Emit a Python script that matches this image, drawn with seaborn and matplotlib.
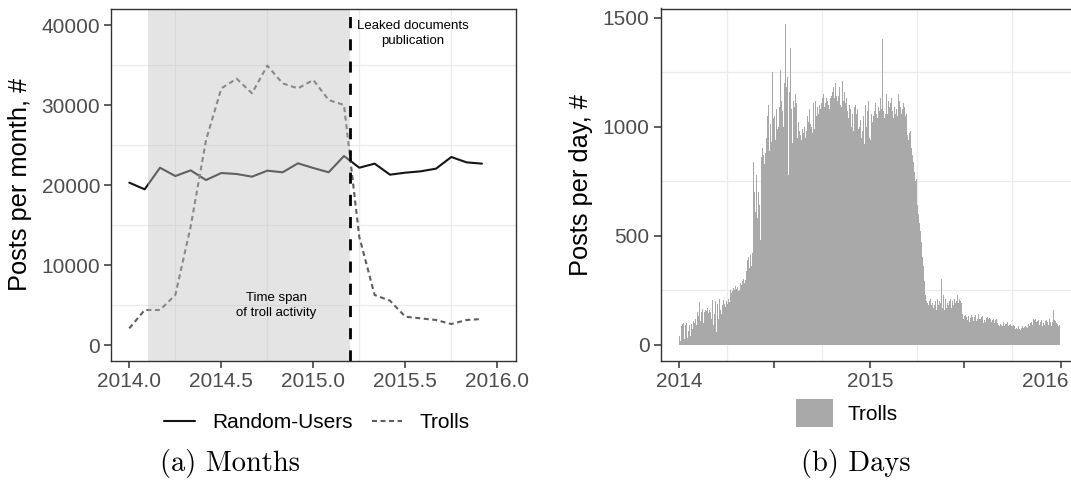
import numpy as np
import pandas as pd
import matplotlib
matplotlib.use("Agg")
import matplotlib.pyplot as plt
from matplotlib.lines import Line2D
from matplotlib.patches import Patch
import seaborn as sns

# ---------------- monthly totals, Jan 2014 .. Dec 2015 ----------------
month_index = np.arange(24)
month_pos = 2014 + month_index / 12
random_users = [20290, 19460, 22160, 21120, 21830, 20620, 21500, 21375,
                21040, 21790, 21590, 22710, 22125, 21590, 23625, 22160,
                22670, 21290, 21540, 21710, 22040, 23500, 22830, 22670]
trolls_monthly = [2080, 4375, 4375, 6250, 14800, 25600, 32080, 33290,
                  31460, 34920, 32700, 32080, 33125, 30625, 30000, 13500,
                  6250, 5540, 3540, 3330, 3125, 2625, 3125, 3250]
activity_span = (2014.1, 2015.2)
leak_date = 2015.2

# ---------------- daily troll posts, one list per month ----------------
trolls_2014_01 = [40, 30, 15, 60, 85, 20, 95, 70, 100, 55, 25, 90, 75, 100, 95, 30,
                  85, 65, 105, 90, 100, 40, 80, 95, 105, 70, 90, 110, 60, 100, 95]
trolls_2014_02 = [120, 135, 90, 150, 140, 130, 420, 195, 160, 110, 170, 150, 180, 165,
                  140, 100, 175, 150, 20, 160, 185, 155, 130, 170, 195, 145, 160, 175]
trolls_2014_03 = [150, 190, 120, 175, 205, 160, 90, 180, 140, 195, 200, 165, 60, 170, 185,
                  150, 120, 190, 210, 175, 160, 140, 195, 180, 170, 205, 150, 185, 200, 175, 190]
trolls_2014_04 = [200, 215, 185, 230, 210, 240, 195, 225, 250, 210, 235, 180, 245, 260, 220,
                  250, 230, 270, 240, 255, 215, 265, 280, 245, 270, 250, 230, 285, 260, 275]
trolls_2014_05 = [260, 290, 275, 300, 310, 285, 295, 320, 340, 370, 390, 365, 400, 385, 350,
                  395, 410, 375, 360, 405, 420, 560, 840, 620, 700, 850, 610, 720, 780, 580, 690]
trolls_2014_06 = [700, 930, 640, 780, 480, 820, 860, 750, 900, 580, 870, 1000, 830, 910, 880,
                  1120, 950, 860, 1050, 920, 1100, 890, 960, 1010, 1345, 930, 1080, 1250, 990, 1040]
trolls_2014_07 = [980, 1050, 1110, 940, 1020, 1080, 1130, 990, 1060, 1000, 1150, 1090, 1030,
                  1260, 1120, 1275, 1070, 1150, 1000, 1100, 1200, 1060, 1470, 1140, 1180, 1090,
                  1230, 1050, 780, 1130, 1160]
trolls_2014_08 = [1100, 1360, 1150, 1080, 1170, 925, 1120, 1060, 1090, 1010, 1150, 1040, 1110,
                  990, 950, 1070, 1020, 1160, 980, 1000, 960, 1030, 940, 1010, 990, 1050, 970,
                  1000, 1020, 950, 1040]
trolls_2014_09 = [980, 1000, 1050, 960, 1020, 990, 1080, 940, 1010, 1060, 1000, 1090, 970, 1030,
                  1110, 1040, 990, 1070, 1120, 1050, 1000, 1090, 1130, 1060, 1020, 1100, 1140,
                  1080, 1050, 1110]
trolls_2014_10 = [1100, 1130, 1080, 1150, 1120, 1090, 1140, 1110, 1160, 1130, 1275, 1120, 1100,
                  1150, 1080, 1170, 1130, 1110, 1140, 1090, 1160, 1120, 1180, 1100, 1130, 1150,
                  1200, 1110, 1140, 1170, 1120]
trolls_2014_11 = [1230, 1140, 1120, 1180, 1100, 1150, 1090, 1130, 1210, 1070, 1120, 1100, 1160,
                  1080, 1110, 1050, 1130, 1090, 1070, 1120, 1040, 1060, 1100, 1010, 1080, 1030,
                  1000, 1060, 1020, 980]
trolls_2014_12 = [1050, 1090, 1020, 1100, 820, 1060, 1010, 1080, 1040, 990, 1070, 1000, 960, 1030,
                  900, 950, 870, 980, 1336, 1050, 920, 1080, 1100, 1040, 1000, 1110, 1070, 1090,
                  1120, 1060, 950]
trolls_2015_01 = [480, 940, 1000, 1060, 1080, 1020, 1090, 1050, 1100, 1070, 1030, 1110, 1060,
                  1080, 1040, 1120, 1090, 1050, 1070, 1100, 1130, 1060, 1080, 1150, 1400, 1110,
                  1070, 1090, 1040, 1120, 1060]
trolls_2015_02 = [1080, 1150, 1100, 1060, 1120, 1170, 1090, 1050, 1110, 1080, 1130, 1160, 1070,
                  1100, 1040, 1120, 1090, 1170, 1060, 1110, 1080, 1130, 1050, 1100, 1150, 1070,
                  1120, 1090]
trolls_2015_03 = [1100, 1060, 1120, 1080, 1040, 1110, 1070, 1090, 1130, 1050, 1080, 1060, 1000,
                  960, 990, 940, 1010, 970, 920, 980, 950, 900, 870, 920, 840, 880, 790, 830, 750,
                  700, 760]
trolls_2015_04 = [680, 640, 650, 600, 620, 560, 580, 520, 490, 470, 430, 400, 360, 330, 290, 260,
                  230, 210, 200, 260, 190, 210, 180, 230, 200, 170, 210, 190, 180, 220]
trolls_2015_05 = [190, 210, 170, 220, 180, 200, 240, 160, 190, 210, 230, 180, 170, 200, 280, 190,
                  210, 300, 180, 170, 200, 230, 190, 160, 180, 210, 200, 170, 190, 220, 180]
trolls_2015_06 = [180, 200, 160, 210, 190, 170, 220, 200, 280, 180, 160, 210, 240, 190, 170, 200,
                  180, 230, 160, 190, 210, 170, 200, 180, 190, 160, 140, 130, 120, 135]
trolls_2015_07 = [130, 120, 135, 110, 125, 140, 115, 128, 132, 118, 105, 130, 122, 138, 112, 126,
                  134, 108, 120, 128, 115, 136, 124, 110, 130, 118, 126, 140, 112, 120, 128]
trolls_2015_08 = [118, 105, 125, 110, 130, 98, 120, 112, 126, 104, 115, 122, 100, 128, 110, 118,
                  95, 124, 108, 116, 120, 102, 126, 112, 106, 118, 122, 100, 114, 108, 120]
trolls_2015_09 = [105, 98, 110, 92, 102, 88, 108, 95, 100, 90, 104, 85, 98, 106, 92, 88, 100, 94,
                  82, 96, 102, 90, 86, 98, 92, 80, 95, 88, 84, 92]
trolls_2015_10 = [88, 80, 92, 76, 85, 90, 72, 84, 78, 88, 70, 82, 86, 74, 80, 68, 84, 78, 72, 86,
                  80, 75, 70, 82, 76, 88, 72, 80, 84, 78, 90]
trolls_2015_11 = [95, 102, 88, 110, 98, 105, 115, 92, 108, 120, 100, 112, 96, 118, 125, 104, 150,
                  110, 98, 115, 108, 92, 120, 102, 96, 112, 88, 106, 100, 94]
trolls_2015_12 = [92, 100, 108, 85, 112, 98, 104, 118, 90, 106, 120, 96, 102, 110, 88, 125, 105,
                  140, 160, 115, 98, 108, 130, 100, 145, 95, 110, 88, 102, 92, 85]

daily_months = [trolls_2014_01, trolls_2014_02, trolls_2014_03, trolls_2014_04, trolls_2014_05,
                trolls_2014_06, trolls_2014_07, trolls_2014_08, trolls_2014_09, trolls_2014_10,
                trolls_2014_11, trolls_2014_12, trolls_2015_01, trolls_2015_02, trolls_2015_03,
                trolls_2015_04, trolls_2015_05, trolls_2015_06, trolls_2015_07, trolls_2015_08,
                trolls_2015_09, trolls_2015_10, trolls_2015_11, trolls_2015_12]

# day offsets from 2014-01-01 for each month start
month_starts = pd.date_range("2014-01-01", periods=24, freq="MS")
origin = pd.Timestamp("2014-01-01")
day_vals, day_pos = [], []
for start, vals in zip(month_starts, daily_months):
    ndays = start.days_in_month
    vals = vals[:ndays]
    offset = (start - origin).days
    day_pos.extend(offset + np.arange(len(vals)))
    day_vals.extend(vals)

day_ticks = [(pd.Timestamp(d) - origin).days for d in
             ["2014-01-01", "2014-07-01", "2015-01-01", "2015-07-01", "2016-01-01"]]
day_tick_labels = ["2014", "", "2015", "", "2016"]

# ---------------- styling ----------------
sns.set_theme(style="white")
plt.rcParams["font.family"] = ["Liberation Sans", "DejaVu Sans"]

W, H = 1071, 492
fig = plt.figure(figsize=(W / 100, H / 100), dpi=100)
fig.patch.set_facecolor("white")


def px_axes(left, top, right, bottom):
    return fig.add_axes([left / W, 1 - bottom / H, (right - left) / W, (bottom - top) / H])


def style_axes(ax):
    for sp in ax.spines.values():
        sp.set_visible(True)
        sp.set_color("#333333")
        sp.set_linewidth(1.0)
        sp.set_zorder(10)
    ax.tick_params(which="major", direction="out", length=5, width=1.1,
                   color="#333333", labelsize=15, labelcolor="#4d4d4d", pad=3,
                   left=True, bottom=True)
    ax.tick_params(which="minor", length=0)
    ax.grid(False, which="major")
    ax.grid(True, which="minor", color="#ebebeb", linewidth=0.9)
    ax.set_axisbelow(True)
    ax.set_facecolor("white")


# ---------------- (a) monthly lines ----------------
ax1 = px_axes(111.3, 9, 515.7, 360.7)
df_month = pd.DataFrame({
    "year": np.concatenate([month_pos, month_pos]),
    "posts": random_users + trolls_monthly,
    "group": ["Random-Users"] * 24 + ["Trolls"] * 24,
})
line_colors = {"Random-Users": "#151515", "Trolls": "#5e5e5e"}
troll_dash = (2.4, 1.7)
sns.lineplot(data=df_month, x="year", y="posts", hue="group", style="group",
             palette=line_colors, dashes={"Random-Users": "", "Trolls": troll_dash},
             linewidth=1.5, legend=False, ax=ax1, zorder=2)

ax1.axvspan(*activity_span, facecolor=(195 / 255,) * 3, alpha=0.435, lw=0, zorder=3)
ax1.axvline(leak_date, color="black", lw=2.0, linestyle=(0, (4, 4)), zorder=4)
ax1.text(2015.54, 38900, "Leaked documents\npublication", ha="center", va="center",
         fontsize=9.5, linespacing=1.35, color="black", zorder=5)
ax1.text(2014.8, 4950, "Time span\nof troll activity", ha="center", va="center",
         fontsize=9.5, linespacing=1.35, color="black", zorder=5)

ax1.set_xlim(2013.902, 2016.1)
ax1.set_ylim(-1962, 42000)
ax1.set_xticks([2014.0, 2014.5, 2015.0, 2015.5, 2016.0])
ax1.set_xticklabels(["2014.0", "2014.5", "2015.0", "2015.5", "2016.0"])
ax1.set_xticks([2014.25, 2014.75, 2015.25, 2015.75], minor=True)
ax1.set_yticks([0, 10000, 20000, 30000, 40000])
ax1.set_yticklabels(["0", "10000", "20000", "30000", "40000"])
ax1.set_yticks([5000, 15000, 25000, 35000], minor=True)
style_axes(ax1)
ax1.set_xlabel("")
ax1.set_ylabel("Posts per month, #", fontsize=18.3, color="black")
ax1.yaxis.set_label_coords((32 - 111.3) / 404.4, 0.5)

fig.legend(
    [Line2D([], [], color=line_colors["Random-Users"], lw=1.5),
     Line2D([], [], color=line_colors["Trolls"], lw=1.5, linestyle=(0, troll_dash))],
    ["Random-Users", "Trolls"], loc="center", bbox_to_anchor=(317 / W, 1 - 423 / H),
    ncol=2, frameon=False, fontsize=15, handlelength=1.45, handletextpad=0.85,
    columnspacing=0.9, borderpad=0, labelcolor="black")

# ---------------- (b) daily bars ----------------
ax2 = px_axes(660.5, 8.5, 1079.3, 360.7)
df_day = pd.DataFrame({"day": np.asarray(day_pos, dtype=float),
                       "posts": np.asarray(day_vals, dtype=float)})
bar_color = "#a9a9a9"
sns.histplot(data=df_day, x="day", weights="posts", binwidth=1,
             binrange=(-0.5, df_day["day"].max() + 0.5), shrink=1.0,
             color=bar_color, alpha=1, linewidth=0, ax=ax2)
ax2.set_xlim(-36.4, 766)
ax2.set_ylim(-73.4, 1542)
ax2.set_xticks(day_ticks)
# the last year label sits just inside the right edge of the figure
ax2.set_xticklabels(day_tick_labels[:-1] + [""])
ax2.annotate(day_tick_labels[-1], xy=(day_ticks[-1], 0),
             xycoords=("data", "axes fraction"), xytext=(-11, -8),
             textcoords="offset points", ha="center", va="top", fontsize=15,
             color="#4d4d4d", annotation_clip=False)
ax2.set_xticks([90.5, 273, 455.5, 638], minor=True)
ax2.set_yticks([0, 500, 1000, 1500])
ax2.set_yticklabels(["0", "500", "1000", "1500"])
ax2.set_yticks([250, 750, 1250], minor=True)
style_axes(ax2)
ax2.set_xlabel("")
ax2.set_ylabel("Posts per day, #", fontsize=18.3, color="black")
ax2.yaxis.set_label_coords((593.3 - 660.5) / 418.8, 0.5)

fig.legend([Patch(facecolor=bar_color, edgecolor="none")], ["Trolls"], loc="center",
           bbox_to_anchor=(847 / W, 1 - 413 / H), frameon=False, fontsize=15,
           handlelength=1.75, handleheight=1.75, handletextpad=0.7, borderpad=0,
           labelcolor="black")

# ---------------- captions ----------------
fig.text(229.5 / W, 1 - 463 / H, "(a) Months", family="cmr10", fontsize=20.5,
         ha="center", va="center", color="black")
fig.text(855.5 / W, 1 - 463 / H, "(b) Days", family="cmr10", fontsize=20.5,
         ha="center", va="center", color="black")

fig.savefig("out.png", dpi=100, facecolor="white")
